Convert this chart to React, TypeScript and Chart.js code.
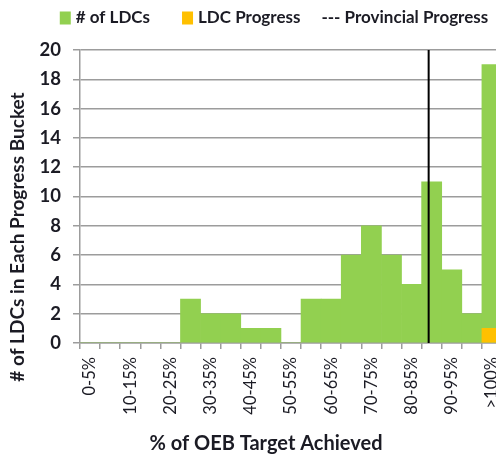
import React, { useEffect, useRef } from "react";
import { Chart, registerables } from "chart.js";

Chart.register(...registerables);

// ---- data ----
const categories = [
  "0-5%", "5-10%", "10-15%", "15-20%", "20-25%", "25-30%", "30-35%",
  "35-40%", "40-45%", "45-50%", "50-55%", "55-60%", "60-65%", "65-70%",
  "70-75%", "75-80%", "80-85%", "85-90%", "90-95%", "95-100%", ">100%",
];
const ldcCounts = [0, 0, 0, 0, 0, 3, 2, 2, 1, 1, 0, 3, 3, 6, 8, 6, 4, 11, 5, 2, 19];
const ldcProgress = [null, null, null, null, null, null, null, null, null, null, null,
  null, null, null, null, null, null, null, null, null, 1];
const provincialProgressPct = 86.75;
const yMin = 0;
const yMax = 20;
const yStep = 2;

const seriesNames = ["# of LDCs", "LDC Progress", "--- Provincial Progress"];
const xTitle = "% of OEB Target Achieved";
const yTitle = "# of LDCs in Each Progress Bucket";

const GREEN = "#92D050";
const ORANGE = "#FFC000";
const GRID = "#9c9c9c";
const TEXT = "#1b1b24";
const FONT = "Lato";

const overlayPlugin = {
  id: "overlay",
  afterDatasetsDraw(chart: any) {
    const { ctx, chartArea, scales } = chart;
    const x = scales.x.getPixelForValue(provincialProgressPct / 5 - 0.5);
    ctx.save();
    ctx.strokeStyle = "#000";
    ctx.lineWidth = 2;
    ctx.beginPath();
    ctx.moveTo(x, chartArea.top);
    ctx.lineTo(x, chartArea.bottom);
    ctx.stroke();
    ctx.restore();
  },
  afterDraw(chart: any) {
    const { ctx } = chart;
    ctx.save();
    ctx.fillStyle = TEXT;
    // y title
    ctx.font = `bold 19px ${FONT}`;
    ctx.textAlign = "center";
    ctx.textBaseline = "middle";
    ctx.save();
    ctx.translate(18, 237);
    ctx.rotate(-Math.PI / 2);
    ctx.fillText(yTitle, 0, 0);
    ctx.restore();
    // x title
    ctx.font = `bold 20px ${FONT}`;
    ctx.fillText(xTitle, 266, 444);
    // legend
    ctx.font = `bold 17px ${FONT}`;
    ctx.textAlign = "left";
    const colors = [GREEN, ORANGE, null];
    const boxW = 11, boxH = 13, boxGap = 5;
    const gaps = [32, 21];
    const widths = seriesNames.map((t, i) => (colors[i] ? boxW + boxGap : 0) + ctx.measureText(t).width);
    const total = widths.reduce((a, b) => a + b, 0) + gaps[0] + gaps[1];
    let x = 274 - total / 2;
    const cy = 18;
    seriesNames.forEach((t, i) => {
      if (colors[i]) {
        ctx.fillStyle = colors[i] as string;
        ctx.fillRect(x, cy - boxH / 2, boxW, boxH);
        x += boxW + boxGap;
      }
      ctx.fillStyle = TEXT;
      ctx.fillText(t, x, cy);
      x += ctx.measureText(t).width;
      if (i < 2) x += gaps[i];
    });
    ctx.restore();
  },
};

export default function App() {
  const ref = useRef<HTMLCanvasElement>(null);
  useEffect(() => {
    const chart = new Chart(ref.current!, {
      type: "bar",
      data: {
        labels: categories,
        datasets: [
          {
            label: seriesNames[0],
            data: ldcCounts,
            backgroundColor: GREEN,
            borderWidth: 0,
            barPercentage: 1,
            categoryPercentage: 1,
            grouped: false,
            order: 2,
          },
          {
            label: seriesNames[1],
            data: ldcProgress,
            backgroundColor: ORANGE,
            borderWidth: 0,
            barPercentage: 1,
            categoryPercentage: 1,
            grouped: false,
            order: 1,
          },
        ],
      },
      options: {
        responsive: false,
        animation: false,
        layout: { padding: { left: 30, top: 50, right: 0, bottom: 0 } },
        plugins: {
          legend: { display: false },
          tooltip: { enabled: false },
        },
        scales: {
          x: {
            offset: true,
            grid: {
              display: true,
              drawOnChartArea: false,
              drawTicks: true,
              tickLength: 6,
              color: GRID,
              lineWidth: 1.5,
            },
            border: { display: true, color: GRID, width: 1.5 },
            ticks: {
              autoSkip: false,
              minRotation: 90,
              maxRotation: 90,
              padding: 8,
              color: TEXT,
              font: { family: FONT, size: 16.5 },
              callback: (_v: any, i: number) => (i % 2 === 0 ? categories[i] : ""),
            },
            afterFit: (s: any) => {
              s.height = 112;
              s.paddingRight = 0;
              s.paddingLeft = 0;
            },
          },
          y: {
            min: yMin,
            max: yMax,
            grid: {
              color: GRID,
              lineWidth: 1.5,
              drawTicks: true,
              tickLength: 7,
            },
            border: { display: true, color: GRID, width: 1.5 },
            ticks: {
              stepSize: yStep,
              padding: 12,
              color: TEXT,
              font: { family: FONT, size: 18.5, weight: "bold" },
            },
            afterFit: (s: any) => {
              s.width = 50;
            },
          },
        },
      },
      plugins: [overlayPlugin],
    });
    return () => chart.destroy();
  }, []);
  return (
    <div
      style={{
        position: "fixed",
        left: 0,
        top: 0,
        width: 496,
        height: 455,
        overflow: "hidden",
        background: "#fff",
      }}
    >
      <canvas ref={ref} width={502} height={455} style={{ display: "block" }} />
    </div>
  );
}
